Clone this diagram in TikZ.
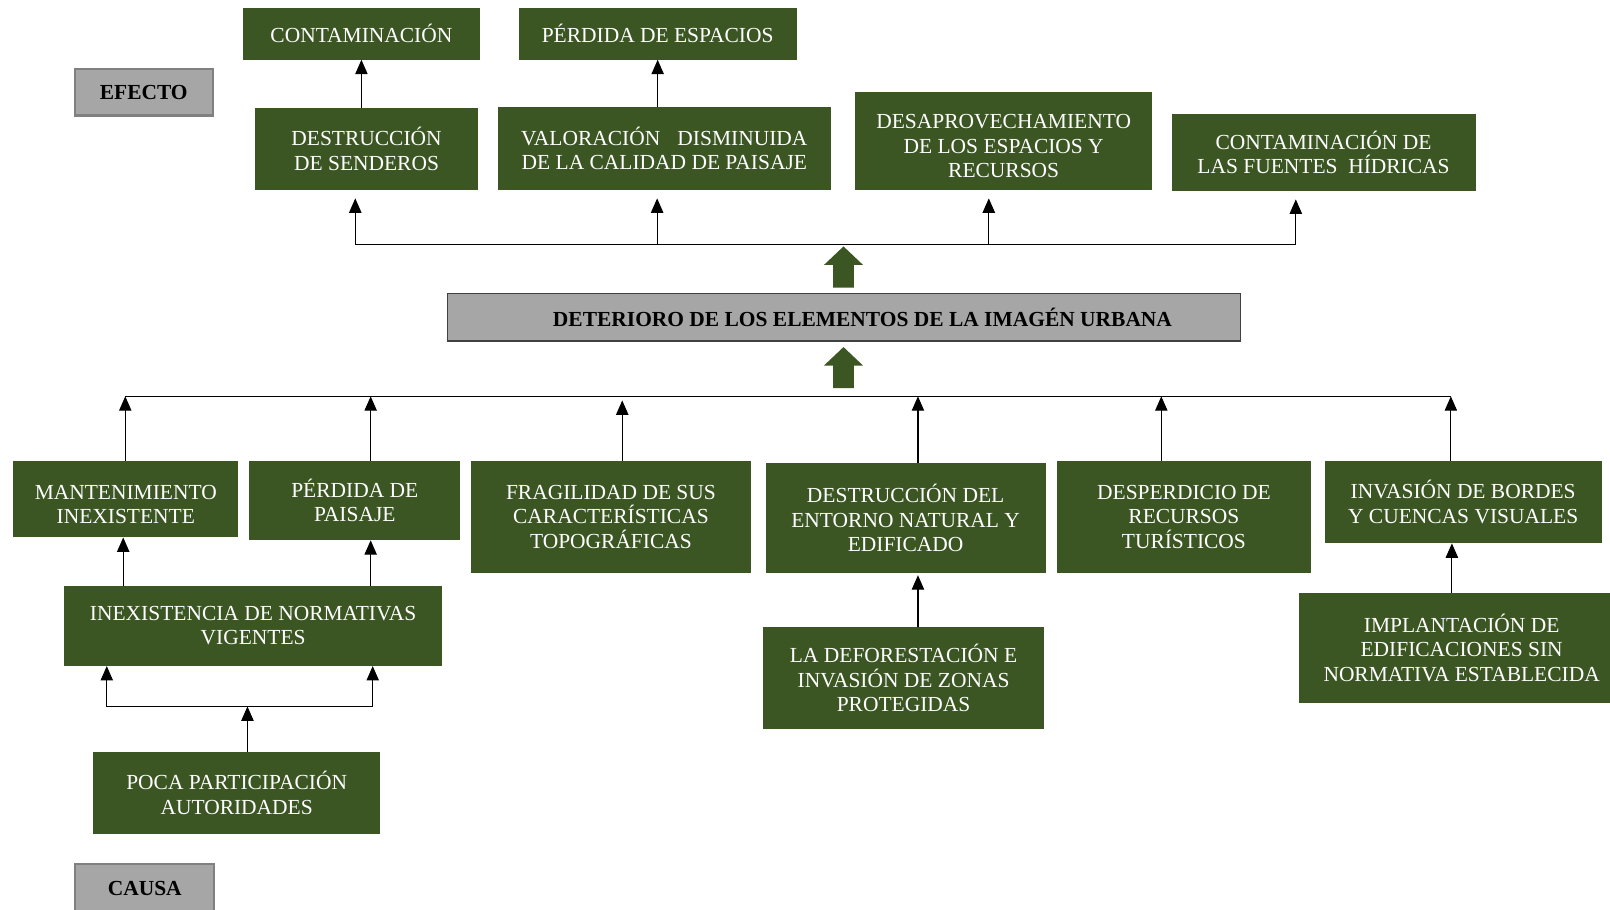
\documentclass[tikz,border=0pt]{standalone}
\usepackage{fontspec}
\setmainfont{Liberation Serif}
\usepackage{tikz}
\usetikzlibrary{calc}
\usetikzlibrary{arrows.meta}
\definecolor{leaf}{RGB}{59,86,35}
\definecolor{boxgray}{RGB}{166,166,166}
\tikzset{greenbox/.style={rectangle, fill=leaf, text=white, align=center, inner sep=0pt, font=\fontsize{20.9}{23.8}\selectfont}}
\tikzset{graybox/.style={rectangle, fill=boxgray, draw=black!50, line width=2pt, align=center, inner sep=0pt, font=\fontsize{20.9}{23.8}\selectfont\bfseries}}
\tikzset{arr/.style={-{Triangle[length=14pt,width=12pt]}, line width=1.1pt}}

\begin{document}
\begin{tikzpicture}[x=1pt,y=-1pt]
  \useasboundingbox (0,0) rectangle (1568,886);
  \foreach \x/\y/\w/\h/\lab/\txt in {
    352/33/230/50/cont/CONTAMINACIÓN,
    640.5/33/271/50/perd/PÉRDIDA DE ESPACIOS,
    357/145/218/80/dest/DESTRUCCIÓN\\DE SENDEROS,
    647/144.5/324/81/valo/VALORACIÓN\hspace{0.8em}DISMINUIDA\\DE LA CALIDAD DE PAISAJE,
    977.5/137.5/289/95/desa/\rule{0pt}{24pt}DESAPROVECHAMIENTO\\DE LOS ESPACIOS Y\\RECURSOS,
    1289/148.5/296/75/hidr/CONTAMINACIÓN DE\\LAS FUENTES\ \ HÍDRICAS,
    122.5/486/219/74.5/mant/\rule{0pt}{24pt}MANTENIMIENTO\\INEXISTENTE,
    345.5/487.5/205.5/77/pais/PÉRDIDA DE\\PAISAJE,
    595/503.5/273/109/frag/FRAGILIDAD DE SUS\\CARACTERÍSTICAS\\TOPOGRÁFICAS,
    882/504.5/272.5/107/ento/DESTRUCCIÓN DEL\\ENTORNO NATURAL Y\\EDIFICADO,
    1153/503.5/248/109/desp/DESPERDICIO DE\\RECURSOS\\TURÍSTICOS,
    1425/489/270/80/bord/INVASIÓN DE BORDES\\Y CUENCAS VISUALES,
    246.5/609.5/368/78/norm/INEXISTENCIA DE NORMATIVAS\\VIGENTES,
    880/660.5/273.5/99/defo/LA DEFORESTACIÓN E\\INVASIÓN DE ZONAS\\PROTEGIDAS,
    1416.5/631/303/106.5/impl/\hspace*{14pt}IMPLANTACIÓN DE\\\hspace*{14pt}EDIFICACIONES SIN\\\hspace*{14pt}NORMATIVA ESTABLECIDA,
    230.5/772/280/79.5/poca/POCA PARTICIPACIÓN\\AUTORIDADES%
  } {
    \node[greenbox, minimum width=\w pt, minimum height=\h pt] (\lab) at (\x, \y) {\txt};
  }
  \node[graybox, minimum width=134pt, minimum height=45pt] (efecto) at (140, 90) {EFECTO};
  \node[graybox, draw=black!75, line width=1.3pt, minimum width=772pt, minimum height=46.5pt] (deter) at (822, 309) {\hspace*{36pt}DETERIORO DE LOS ELEMENTOS DE LA IMAGÉN URBANA};
  \node[graybox, minimum width=135pt, minimum height=46.5pt] (causa) at (141, 865) {CAUSA};

  \draw[arr] (dest.north -| cont.south) -- (cont.south);
  \draw[arr] (valo.north -| perd.south) -- (perd.south);
  \coordinate (ebus) at (822, 238);
  \draw[line width=1.1pt] (346,0 |- ebus) -- (1262,0 |- ebus);
  \foreach \n/\x in {dest/346, valo/640, desa/963, hidr/1262} {
    \draw[arr] (\x,0 |- ebus) -- ($(\x,0 |- \n.south) + (0,8)$);
  }
  \foreach \t in {240, 338} {
    \fill[leaf] (821.5,\t) -- ++(19,18) -- ++(-9,0) -- ++(0,22) -- ++(-20,0) -- ++(0,-22) -- ++(-9,0) -- cycle;
  }
  \coordinate (cbus) at (822, 386);
  \draw[line width=1.1pt] (122,0 |- cbus) -- (1413,0 |- cbus);
  \foreach \n/\x/\g in {mant/122/0, pais/361/0, frag/606/4, ento/894/0, desp/1131/0, bord/1413/0} {
    \draw[arr] (\x,0 |- \n.north) -- ($(\x,0 |- cbus) + (0,\g)$);
  }
  \draw[arr] (120,0 |- norm.north) -- (120,0 |- mant.south);
  \draw[arr] (361,0 |- norm.north) -- (361,0 |- pais.south);
  \coordinate (pbus) at (240, 688);
  \draw[arr, {Triangle[length=14pt,width=12pt]}-{Triangle[length=14pt,width=12pt]}] (104,0 |- norm.south) -- (104,0 |- pbus) -- (363,0 |- pbus) -- (363,0 |- norm.south);
  \draw[arr] (241,0 |- poca.north) -- (241,0 |- pbus);
  \draw[arr] (894,0 |- defo.north) -- ($(894,0 |- ento.south) + (0,2)$);
  \draw[arr] (1414,0 |- impl.north) -- (1414,0 |- bord.south);
\end{tikzpicture}
\end{document}
